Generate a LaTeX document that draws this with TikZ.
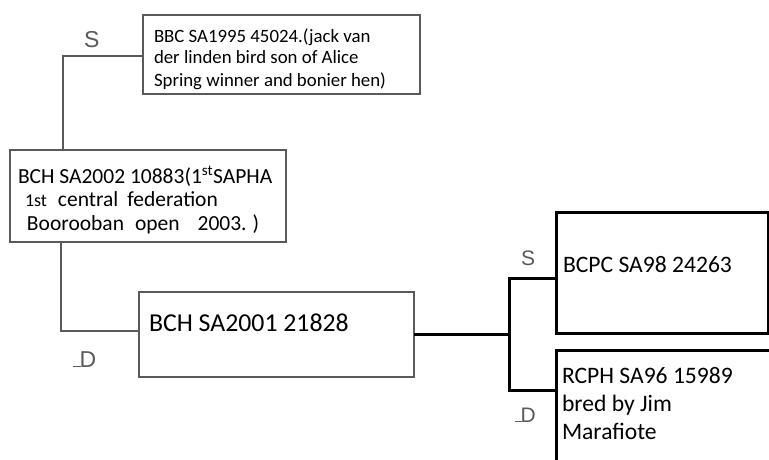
\documentclass[tikz,border=0pt]{standalone}
\usepackage{fontspec}
\setmainfont{Carlito}
\newfontfamily\symfont{Liberation Sans}
\definecolor{handgray}{HTML}{5A5A5A}
\begin{document}
\begin{tikzpicture}[x=1pt,y=-1pt,
  hbox/.style={draw=handgray, line width=1.1pt, inner sep=0pt, outer sep=0pt, anchor=north west},
  kbox/.style={draw=black, line width=3pt, inner sep=0pt, outer sep=0pt, anchor=north west},
  hline/.style={draw=handgray, line width=1.1pt},
  kline/.style={draw=black, line width=3pt},
  txt/.style={anchor=base west, inner sep=0pt, outer sep=0pt, text=black},
  sdmark/.style={anchor=base west, inner sep=0pt, text=handgray, font=\symfont\fontsize{23}{26}\selectfont},
  smallt/.style={font=\fontsize{18.8}{22}\selectfont},
  midt/.style={font=\fontsize{21.5}{24}\selectfont},
  bigt/.style={font=\fontsize{25.8}{29}\selectfont},
  rt/.style={font=\fontsize{23.6}{28}\selectfont}]
\useasboundingbox (0,0) rectangle (769,459);
\fill[white] (0,0) rectangle (769,459);
\clip (0,0) rectangle (769,459);
% boxes
\node[hbox, minimum width=277pt, minimum height=79pt] (b1) at (143,15) {};
\node[hbox, minimum width=276pt, minimum height=92pt] (b2) at (10,150) {};
\node[hbox, minimum width=275pt, minimum height=85pt] (b3) at (139,292) {};
\node[kbox, minimum width=212pt, minimum height=121pt] (b4) at (556,212) {};
\node[kbox, minimum width=240pt, minimum height=240pt] (b5) at (556,350) {};
% texts
\node[txt, smallt] (t1a) at (154,42) {BBC SA1995 45024.(jack van};
\node[txt, smallt] (t1b) at (154,63.5) {der linden bird son of Alice};
\node[txt, smallt] (t1c) at (154,86) {Spring winner and bonier hen)};
\node[txt, midt] (t2a) at (18,183) {BCH SA2002 10883(1\textsuperscript{st}SAPHA};
\node[txt, midt] (t2b) at (25,206) {{\fontsize{18}{20}\selectfont 1st}\hspace{11pt}central\hspace{9pt}federation};
\node[txt, midt] (t2c) at (27,230) {Boorooban\hspace{11pt}open\hspace{18pt}2003.\hspace{6pt})};
\node[txt, bigt] (t3) at (149,331) {BCH SA2001 21828};
\node[txt, rt] (t4) at (563,272) {BCPC SA98 24263};
\node[txt, rt] (t5a) at (562,383) {RCPH SA96 15989};
\node[txt, rt] (t5b) at (562,411) {bred by Jim};
\node[txt, rt] (t5c) at (562,439) {Marafiote};
% sire / dam marks
\node[sdmark] (m1) at (84,47) {S};
\node[sdmark] (m2) at (73,367) {\rule{8pt}{1.2pt}\kern-1.5pt D};
\node[sdmark, font=\symfont\fontsize{21}{24}\selectfont] (m3) at (521,265) {S};
\node[sdmark, font=\symfont\fontsize{21}{24}\selectfont] (m4) at (515,422) {\rule{7pt}{1.2pt}\kern-1.5pt D};
% connectors
\coordinate (j1) at (63,150);
\coordinate (j2) at (61,242);
\coordinate (fk) at (509,334.5);
\draw[hline] ([yshift=-1.5pt]b1.west) -| (j1);
\draw[hline] (j2) |- ([yshift=3.5pt]b3.west);
\draw[kline] (b3.east) -- (fk);
\draw[kline] ([yshift=-5.5pt]b4.west) -| (fk) |- ([yshift=80pt]b5.west);
\end{tikzpicture}
\end{document}
